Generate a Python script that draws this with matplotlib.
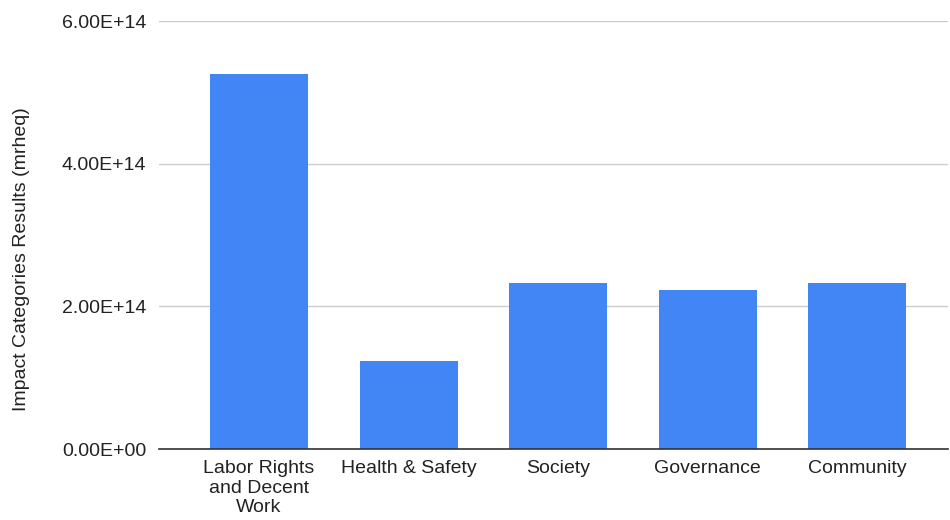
import matplotlib

matplotlib.use("Agg")
import matplotlib.pyplot as plt  # noqa: E402
import numpy as np  # noqa: E402

categories = ["Labor Rights\nand Decent\nWork", "Health & Safety", "Society", "Governance", "Community"]
values = [5.257e14, 1.234e14, 2.327e14, 2.229e14, 2.327e14]
yticks = [0, 2e14, 4e14, 6e14]
ytick_labels = ["0.00E+00", "2.00E+14", "4.00E+14", "6.00E+14"]

BLUE = "#4285f4"
TXT = "#222222"

plt.rcParams["font.family"] = ["Liberation Sans", "DejaVu Sans"]

fig = plt.figure(figsize=(9.5, 5.2), dpi=100)
ax = fig.add_axes([159 / 950, (520 - 449) / 520, (948 - 159) / 950, (449 - 21) / 520])

x = np.arange(len(categories))
ax.bar(x, values, width=0.655, color=BLUE, zorder=3)

ax.set_ylim(0, 6e14)
ax.set_xlim(-0.668, 4.606)
ax.set_yticks(yticks)
ax.set_yticklabels(ytick_labels)
ax.set_xticks(x)
ax.set_xticklabels(categories, linespacing=1.2)
ax.tick_params(axis="y", length=0, pad=9, labelsize=14, labelcolor=TXT)
ax.tick_params(axis="x", length=0, pad=8, labelsize=14, labelcolor=TXT)
ax.grid(axis="y", color="#cccccc", lw=1, zorder=0)
for s in ("top", "right", "left"):
    ax.spines[s].set_visible(False)
ax.spines["bottom"].set_color("#333333")
ax.spines["bottom"].set_linewidth(1.2)
ax.spines["bottom"].set_zorder(4)

fig.text(22 / 950, (520 - 259) / 520, "Impact Categories Results (mrheq)", rotation=90,
         ha="center", va="center", fontsize=14, color=TXT)

fig.savefig("out.png", dpi=100)
